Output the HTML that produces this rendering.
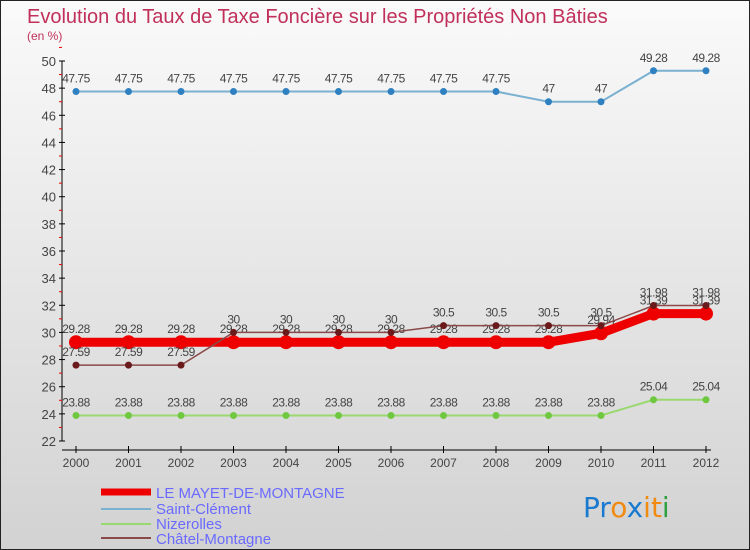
<!DOCTYPE html>
<html><head><meta charset="utf-8"><style>
body{margin:0}
#c{width:748px;height:548px;border:1px solid #222;background:linear-gradient(#fafafa,#d2d2d2);position:relative;font-family:"Liberation Sans",sans-serif}
</style></head><body>
<div id="c">
<svg id="s" width="748" height="548" style="position:absolute;left:0;top:0" font-family="Liberation Sans, sans-serif">
<text x="26" y="22" font-size="20" fill="#c0305a">Evolution du Taux de Taxe Foncière sur les Propriétés Non Bâties</text>
<text x="26" y="39" font-size="12" fill="#c0305a">(en %)</text>
<g id="axes"></g><g id="series"></g>
<g>
<line x1="100" y1="491" x2="150" y2="491" stroke="#e00" stroke-width="7"/>
<text x="155" y="497" font-size="15" fill="#6a6aff">LE MAYET-DE-MONTAGNE</text>
<line x1="100" y1="508" x2="150" y2="508" stroke="#7ab0d0" stroke-width="2"/>
<text x="155" y="513" font-size="15" fill="#6a6aff">Saint-Clément</text>
<line x1="100" y1="523" x2="150" y2="523" stroke="#9ad870" stroke-width="2"/>
<text x="155" y="528" font-size="15" fill="#6a6aff">Nizerolles</text>
<line x1="100" y1="537" x2="150" y2="537" stroke="#8a4a4a" stroke-width="2"/>
<text x="155" y="543" font-size="15" fill="#6a6aff">Châtel-Montagne</text>
</g>
<g font-size="28" font-family="DejaVu Sans, sans-serif">
<text x="582" y="516"><tspan fill="#1a7ad0">Pr</tspan><tspan fill="#f08a10">o</tspan><tspan fill="#1a7ad0">x</tspan><tspan fill="#f08a10">i</tspan><tspan fill="#f08a10">t</tspan><tspan fill="#30a040">i</tspan></text>
</g>
</svg>
</div>
<script>
const years=[2000,2001,2002,2003,2004,2005,2006,2007,2008,2009,2010,2011,2012];
const yTicks=[22,24,26,28,30,32,34,36,38,40,42,44,46,48,50];
const mayet=[29.28,29.28,29.28,29.28,29.28,29.28,29.28,29.28,29.28,29.28,29.94,31.39,31.39];
const saintClement=[47.75,47.75,47.75,47.75,47.75,47.75,47.75,47.75,47.75,47,47,49.28,49.28];
const nizerolles=[23.88,23.88,23.88,23.88,23.88,23.88,23.88,23.88,23.88,23.88,23.88,25.04,25.04];
const chatel=[27.59,27.59,27.59,30,30,30,30,30.5,30.5,30.5,30.5,31.98,31.98];
const NS="http://www.w3.org/2000/svg";
const xs=i=>75+i*(630/(years.length-1));
const ys=v=>440-(v-22)*(380/28);
function mk(t,a,p){const e=document.createElementNS(NS,t);for(const k in a)e.setAttribute(k,a[k]);p.appendChild(e);return e;}
const ax=document.getElementById('axes');
mk('line',{x1:61,y1:60,x2:61,y2:440,stroke:'#000'},ax);
mk('line',{x1:61,y1:449,x2:710,y2:449,stroke:'#000'},ax);
yTicks.forEach(v=>{
 mk('line',{x1:58,y1:ys(v),x2:64,y2:ys(v),stroke:'#000'},ax);
 mk('line',{x1:58,y1:ys(v+1),x2:61,y2:ys(v+1),stroke:'#e00'},ax);
 const t=mk('text',{x:55,y:ys(v)+5,'font-size':13,fill:'#444','text-anchor':'end'},ax);t.textContent=v;
 
 
});
years.forEach((y,i)=>{
 mk('line',{x1:xs(i),y1:445,x2:xs(i),y2:452,stroke:'#000'},ax);
 const t=mk('text',{x:xs(i),y:466,'font-size':12,fill:'#444','text-anchor':'middle'},ax);t.textContent=y;
 
 
});
const sg=document.getElementById('series');
function series(arr,name,color,w,r,dot){
 const g=mk('g',{},sg);
 
 
 mk('polyline',{points:arr.map((v,i)=>xs(i)+','+ys(v)).join(' '),fill:'none',stroke:color,'stroke-width':w},g);
 arr.forEach((v,i)=>{
  const c=mk('circle',{cx:xs(i),cy:ys(v),r:r,fill:dot},g);
  
  
  const t=mk('text',{x:xs(i),y:ys(v)-9,'font-size':12,fill:'#444','text-anchor':'middle','letter-spacing':'-0.5'},g);
  t.textContent=v;
  
  
 });
}
series(saintClement,'saint-clement-series','#7ab0d0',2,3.5,'#2e80c0');
series(nizerolles,'nizerolles-series','#9ad870',2,3.5,'#70c840');
series(mayet,'mayet-series','#ee0000',9,7,'#ee0000');
series(chatel,'chatel-montagne-series','#8a4a4a',1.5,3.5,'#6a1a1a');
</script>
</body></html>
